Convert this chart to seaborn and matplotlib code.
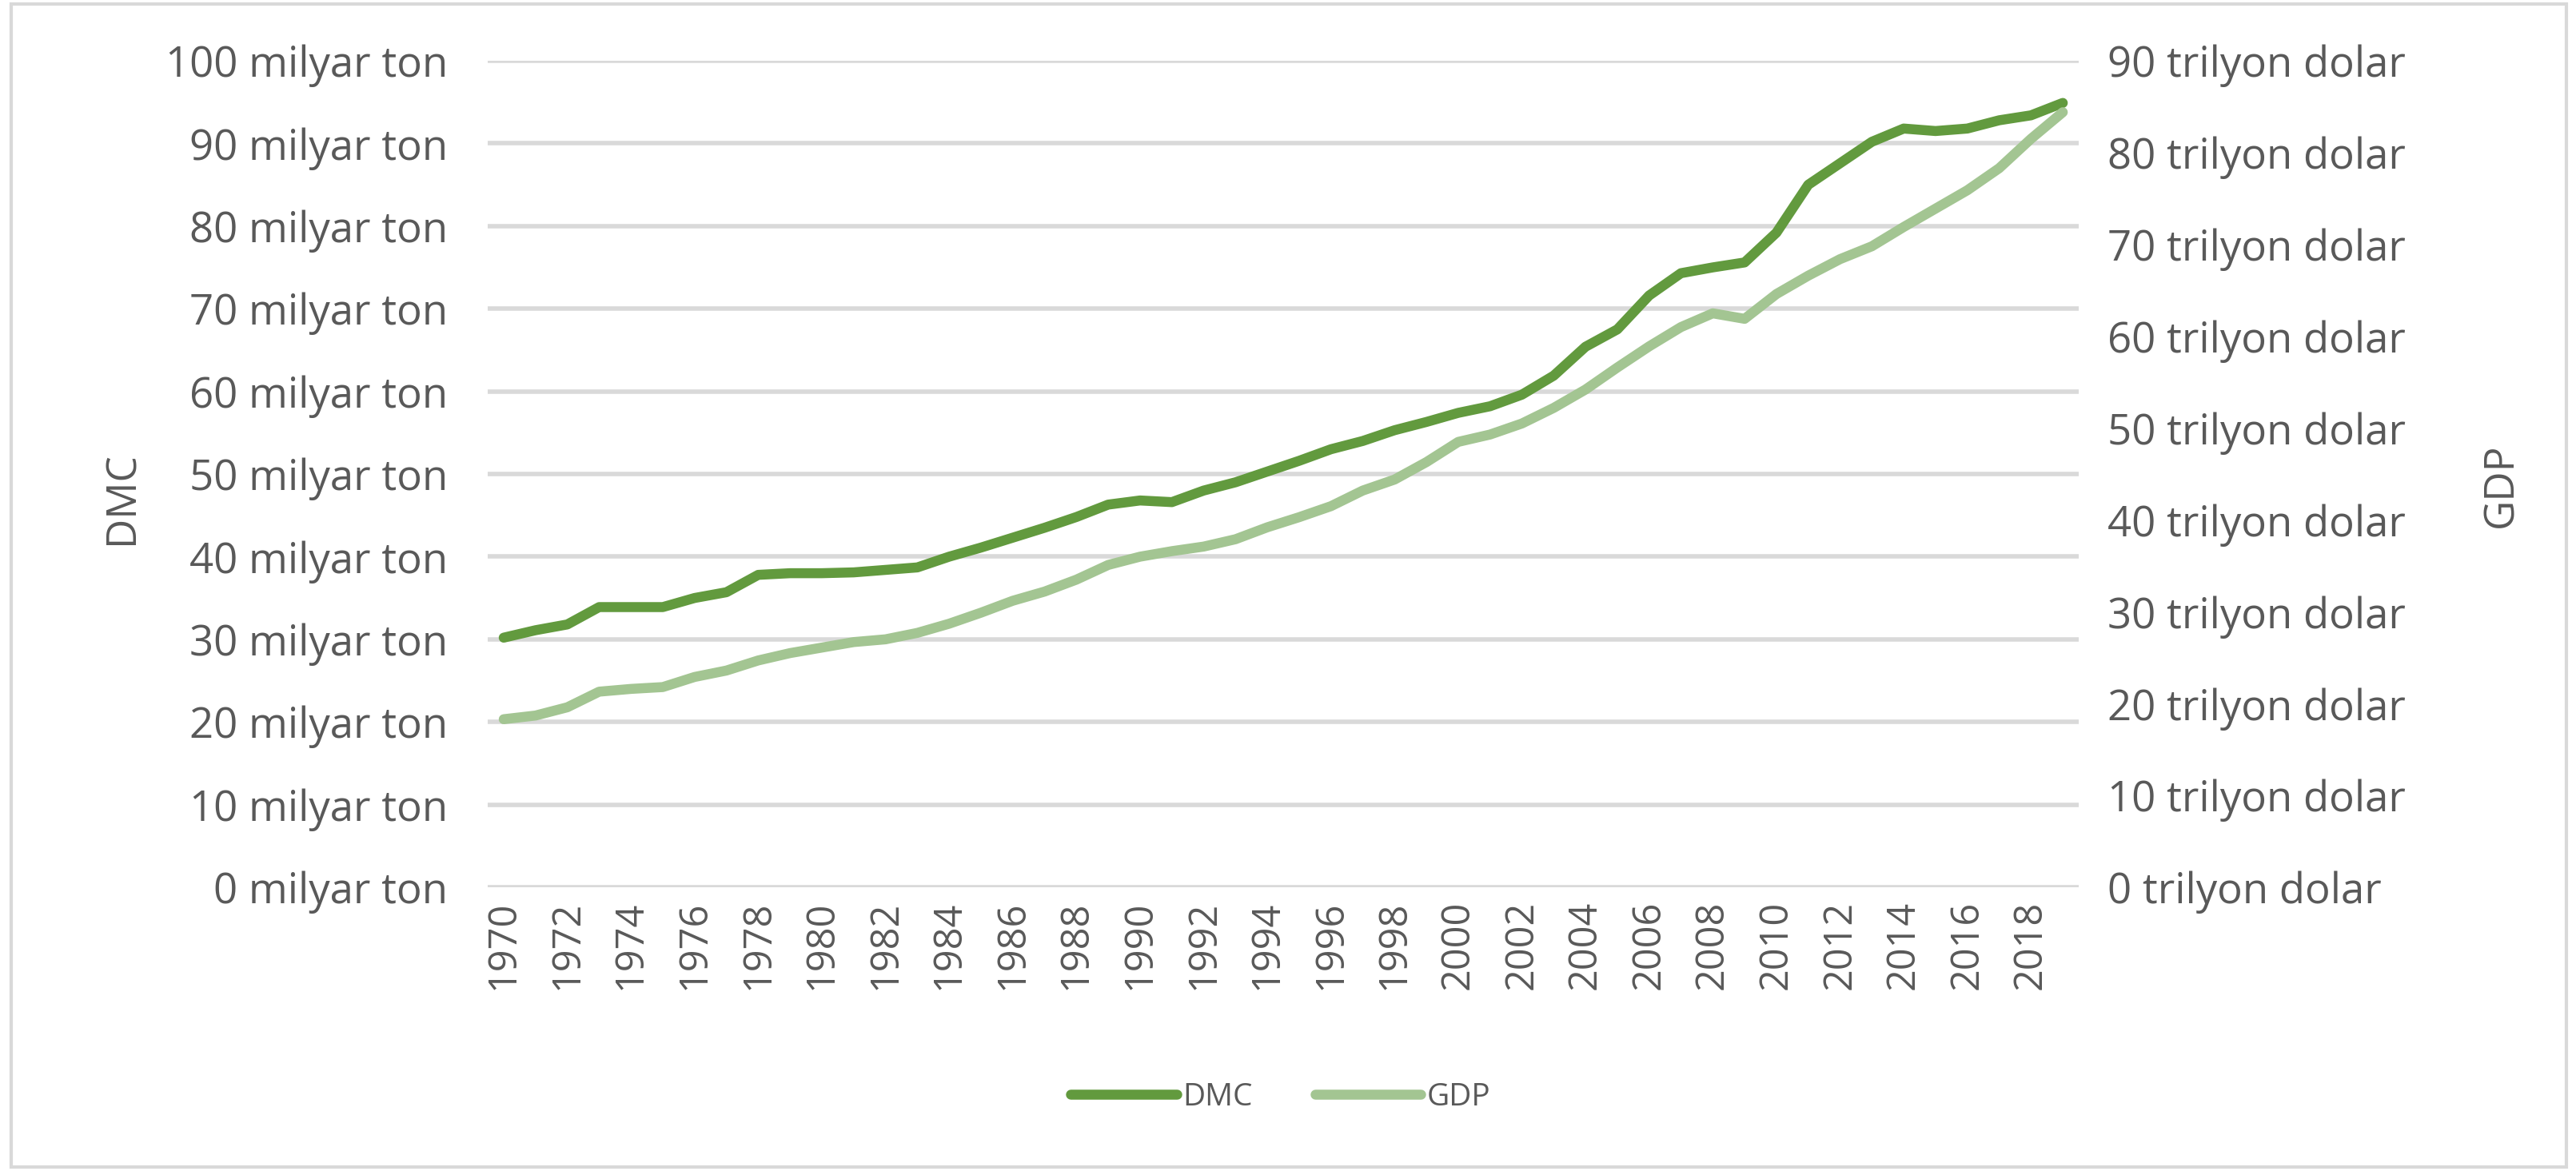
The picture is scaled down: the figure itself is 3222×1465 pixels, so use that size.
import numpy as np
import pandas as pd
import seaborn as sns
import matplotlib.pyplot as plt
from matplotlib.patches import Rectangle

years = list(range(1970, 2020))
dmc = [30.2, 31.1, 31.8, 33.9, 33.9, 33.9, 35.0, 35.7, 37.8, 38.0,
       38.0, 38.1, 38.4, 38.7, 40.0, 41.1, 42.3, 43.5, 44.8, 46.3,
       46.8, 46.6, 48.0, 49.0, 50.3, 51.6, 53.0, 54.0, 55.3, 56.3,
       57.4, 58.2, 59.6, 61.9, 65.4, 67.5, 71.6, 74.3, 75.0, 75.6,
       79.2, 85.0, 87.6, 90.2, 91.8, 91.5, 91.8, 92.8, 93.4, 94.9]
gdp = [18.3, 18.7, 19.6, 21.3, 21.6, 21.8, 22.9, 23.6, 24.7, 25.5,
       26.1, 26.7, 27.0, 27.7, 28.7, 29.9, 31.2, 32.2, 33.5, 35.1,
       36.0, 36.6, 37.1, 37.9, 39.2, 40.3, 41.5, 43.2, 44.4, 46.3,
       48.5, 49.3, 50.5, 52.2, 54.2, 56.6, 58.9, 61.0, 62.5, 61.9,
       64.6, 66.6, 68.4, 69.8, 71.9, 73.9, 75.9, 78.3, 81.5, 84.4]
left_ticks = list(range(0, 101, 10))
right_ticks = list(range(0, 91, 10))

df = pd.DataFrame({"pos": np.arange(len(years)), "DMC": dmc, "GDP": gdp})

sns.set_style("white")
plt.rcParams['font.family'] = ['Open Sans', 'DejaVu Sans']
txt = "#595959"

fig = plt.figure(figsize=(32.23, 14.65), dpi=100)
ax = fig.add_axes([0.1893, 0.2423, 0.6174, 0.7058])
ax2 = ax.twinx()

sns.lineplot(data=df, x="pos", y="DMC", ax=ax, color="#629A3E", linewidth=9,
             label="DMC", legend=False, solid_joinstyle="round", solid_capstyle="round")
sns.lineplot(data=df, x="pos", y="GDP", ax=ax2, color="#A3C592", linewidth=9,
             label="GDP", legend=False, solid_joinstyle="round", solid_capstyle="round")

ax.set_xlim(-0.5, len(years) - 0.5)
ax.set_ylim(0, 100)
ax2.set_ylim(0, 90)

ax.set_yticks(left_ticks)
ax.set_yticklabels([f"{v} milyar ton" for v in left_ticks])
ax2.set_yticks(right_ticks)
ax2.set_yticklabels([f"{v} trilyon dolar" for v in right_ticks])
ax.set_xticks(np.arange(0, len(years), 2))
ax.set_xticklabels([str(y) for y in years[::2]], rotation=90)

ax.grid(axis="y", color="#D9D9D9", linewidth=4)
ax.set_axisbelow(True)
ax2.grid(False)
for a in (ax, ax2):
    for s in a.spines.values():
        s.set_visible(False)
ax.tick_params(axis="y", length=0, pad=36, labelsize=38, labelcolor=txt)
ax.tick_params(axis="x", length=0, pad=12, labelsize=35, labelcolor=txt)
ax2.tick_params(axis="y", length=0, pad=26, labelsize=38, labelcolor=txt)

ax.set_xlabel("")
ax.set_ylabel("DMC", fontsize=37, color=txt)
ax.yaxis.set_label_coords(-0.217, 0.471)
ax2.set_ylabel("GDP", fontsize=37, color=txt, rotation=90)
ax2.yaxis.set_label_coords(1.253, 0.486)

h1, l1 = ax.get_legend_handles_labels()
h2, l2 = ax2.get_legend_handles_labels()
fig.legend(h1 + h2, l1 + l2, loc="center", bbox_to_anchor=(0.497, 0.063), ncol=2,
           frameon=False, fontsize=28, labelcolor=txt, handlelength=3.4,
           handletextpad=0.2, columnspacing=2.0)

fig.patches.append(Rectangle((14 / 3223, 5 / 1465), 3196 / 3223, 1455 / 1465,
                             transform=fig.transFigure, fill=False,
                             edgecolor="#D9D9D9", linewidth=3))

fig.savefig("out.png", dpi=100)
